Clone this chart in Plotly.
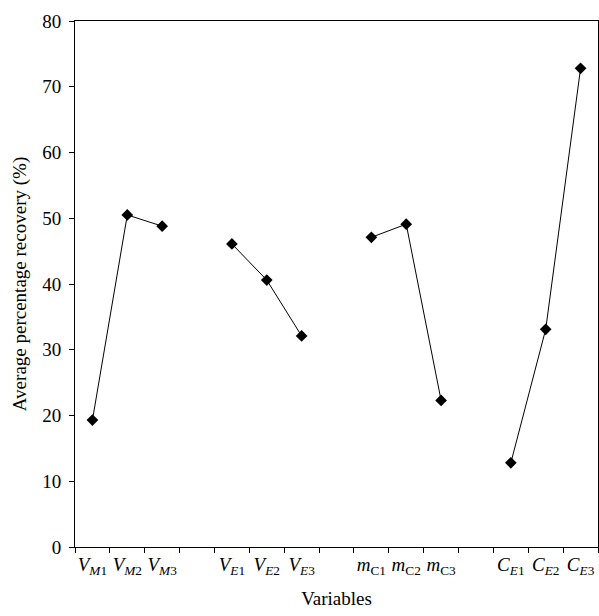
import plotly.graph_objects as go

categories = ["VM1", "VM2", "VM3", "g1", "VE1", "VE2", "VE3", "g2",
              "mC1", "mC2", "mC3", "g3", "CE1", "CE2", "CE3"]
tick_labels = ["<i>V</i><sub><i>M</i>1</sub>", "<i>V</i><sub><i>M</i>2</sub>", "<i>V</i><sub><i>M</i>3</sub>", "",
               "<i>V</i><sub><i>E</i>1</sub>", "<i>V</i><sub><i>E</i>2</sub>", "<i>V</i><sub><i>E</i>3</sub>", "",
               "<i>m</i><sub>C1</sub>", "<i>m</i><sub>C2</sub>", "<i>m</i><sub>C3</sub>", "",
               "<i>C</i><sub><i>E</i>1</sub>", "<i>C</i><sub><i>E</i>2</sub>", "<i>C</i><sub><i>E</i>3</sub>"]
recovery = [19.3, 50.5, 48.8, None, 46.1, 40.6, 32.1, None,
            47.1, 49.1, 22.3, None, 12.8, 33.1, 72.8]

fig = go.Figure(go.Scatter(
    x=categories, y=recovery, mode="lines+markers",
    connectgaps=False,
    line=dict(color="black", width=1),
    marker=dict(symbol="diamond", size=9, color="black"),
))

font = "Liberation Serif, DejaVu Serif, serif"
fig.update_layout(
    width=599, height=616,
    margin=dict(l=75, r=1, t=21, b=69),
    plot_bgcolor="white", paper_bgcolor="white",
    showlegend=False,
    font=dict(family=font, color="black", size=18),
    xaxis=dict(
        type="category", categoryorder="array", categoryarray=categories,
        tickmode="array", tickvals=categories, ticktext=tick_labels,
        tickson="boundaries", ticks="outside", ticklen=5, tickcolor="black",
        tickangle=0, automargin=False,
        showline=True, linecolor="black", linewidth=1, mirror=True,
        showgrid=False, tickfont=dict(size=19),
        range=[-0.5, 14.5],
        title=dict(text="Variables", font=dict(size=19), standoff=14),
    ),
    yaxis=dict(
        range=[0, 80], tickvals=[0, 10, 20, 30, 40, 50, 60, 70, 80],
        ticks="outside", ticklen=5, tickcolor="black", automargin=False,
        ticklabelstandoff=4,
        showline=True, linecolor="black", linewidth=1, mirror=True,
        showgrid=False, zeroline=False, tickfont=dict(size=19),
        title=dict(text="Average percentage recovery (%)", font=dict(size=19), standoff=10),
    ),
)

fig.write_html(
    "out.html",
    config={"displayModeBar": False},
    post_script="document.body.style.margin='0';document.body.style.overflow='hidden';",
)
